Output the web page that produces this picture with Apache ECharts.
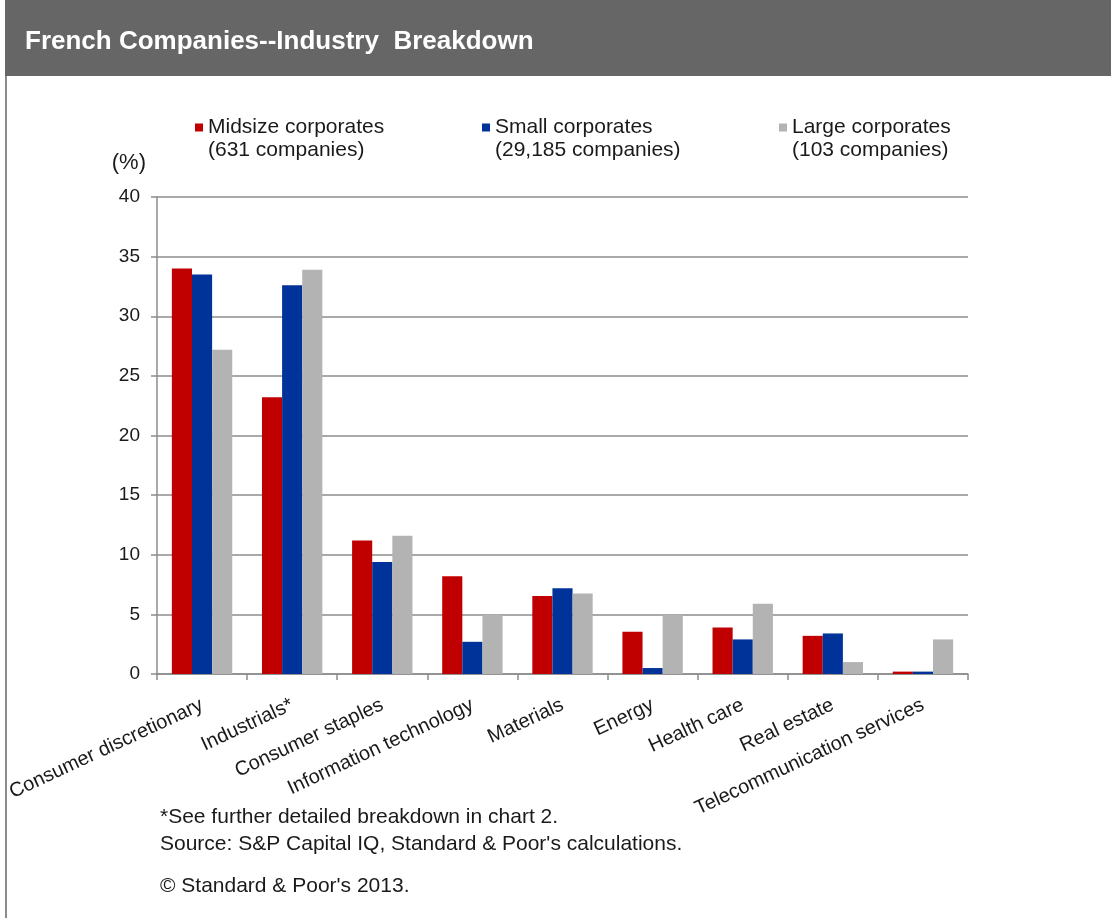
<!DOCTYPE html>
<html lang="en">

<head>
  <meta charset="UTF-8">
  <title>French Companies--Industry Breakdown</title>
  <script src="https://cdn.jsdelivr.net/npm/echarts@6/dist/echarts.min.js"></script>
  <style>
    html, body { margin: 0; padding: 0; background: #fff; }
  </style>
</head>

<body>
  <div id="chart" style="width: 1111px; height: 918px;"></div>
  <script>
    // data (%)
    var categories = ['Consumer discretionary', 'Industrials*', 'Consumer staples', 'Information technology',
      'Materials', 'Energy', 'Health care', 'Real estate', 'Telecommunication services'];
    var midsize = [34.0, 23.2, 11.2, 8.2, 6.55, 3.55, 3.9, 3.2, 0.2];
    var small = [33.5, 32.6, 9.4, 2.7, 7.2, 0.5, 2.9, 3.4, 0.2];
    var large = [27.2, 33.9, 11.6, 4.95, 6.75, 4.95, 5.9, 1.0, 2.9];

    var seriesNames = ['Midsize corporates', 'Small corporates', 'Large corporates'];
    var companyCounts = ['(631 companies)', '(29,185 companies)', '(103 companies)'];
    var seriesColors = ['#C00000', '#003399', '#B3B3B3'];
    var footnotes = ['*See further detailed breakdown in chart 2.',
      "Source: S&P Capital IQ, Standard & Poor's calculations.",
      "\u00A9 Standard & Poor's 2013."];

    var FONT = '"Liberation Sans", Arial, sans-serif';
    var chart = echarts.init(document.getElementById('chart'));

    // one legend per series so each can sit where it is in the original.
    // a blank first line keeps the square level with the series name
    var legendLeft = [195, 482, 779];
    var legends = seriesNames.map(function (name, i) {
      return {
        data: [name],
        left: legendLeft[i],
        top: 93,
        padding: 0,
        selectedMode: false,
        icon: 'rect',
        itemWidth: 8,
        itemHeight: 8,
        itemGap: 0,
        formatter: function (n) { return ' \n' + n + '\n' + companyCounts[i]; },
        textStyle: {
          fontFamily: FONT,
          fontSize: 21,
          color: '#1a1a1a',
          lineHeight: 23
        }
      };
    });

    var option = {
      backgroundColor: '#fff',
      animation: false,
      legend: legends,
      grid: { left: 157, right: 143, top: 197, bottom: 244 },
      xAxis: {
        type: 'category',
        data: categories,
        axisLine: { lineStyle: { color: '#8c8c8c', width: 1.5 } },
        axisTick: { show: true, length: 6, lineStyle: { color: '#8c8c8c', width: 1.5 } },
        axisLabel: {
          interval: 0,
          rotate: 25,
          margin: 30,
          fontFamily: FONT,
          fontSize: 20,
          color: '#1a1a1a'
        }
      },
      yAxis: {
        type: 'value',
        min: 0,
        max: 40,
        interval: 5,
        name: '(%)',
        nameLocation: 'end',
        nameGap: 34,
        nameTextStyle: {
          fontFamily: FONT,
          fontSize: 22,
          color: '#1a1a1a',
          align: 'right',
          verticalAlign: 'middle',
          padding: [0, 11, 0, 0]
        },
        axisLine: { show: true, lineStyle: { color: '#8c8c8c', width: 1.5 } },
        axisTick: { show: true, length: 6, lineStyle: { color: '#8c8c8c', width: 1.5 } },
        axisLabel: { margin: 17, fontFamily: FONT, fontSize: 19, color: '#1a1a1a' },
        splitLine: { lineStyle: { color: '#8c8c8c', width: 1.5 } }
      },
      series: [midsize, small, large].map(function (vals, i) {
        return {
          name: seriesNames[i],
          type: 'bar',
          data: vals,
          barGap: 0,
          barCategoryGap: '33%',
          itemStyle: { color: seriesColors[i] }
        };
      }),
      graphic: [
        // header band
        { type: 'rect', left: 5, top: 0, shape: { width: 1106, height: 76 }, style: { fill: '#666666' }, z: -1 },
        { type: 'line', shape: { x1: 6, y1: 76, x2: 6, y2: 918 }, style: { stroke: '#8c8c8c', lineWidth: 2 } },
        {
          type: 'text', left: 25, top: 29,
          style: { text: 'French Companies--Industry  Breakdown', fill: '#fff', font: 'bold 26px ' + FONT }
        },
        { type: 'text', left: 160, top: 807, style: { text: footnotes[0], fill: '#1a1a1a', font: '21px ' + FONT } },
        { type: 'text', left: 160, top: 834, style: { text: footnotes[1], fill: '#1a1a1a', font: '21px ' + FONT } },
        { type: 'text', left: 160, top: 876, style: { text: footnotes[2], fill: '#1a1a1a', font: '21px ' + FONT } }
      ]
    };

    chart.setOption(option);
  </script>
</body>

</html>
